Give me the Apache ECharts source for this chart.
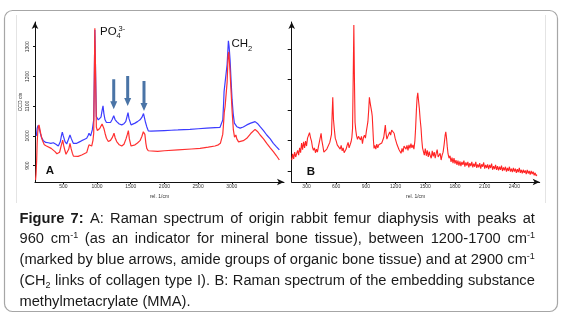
<!DOCTYPE html>
<html>
<head>
<meta charset="utf-8">
<script src="https://cdn.jsdelivr.net/npm/echarts@6/dist/echarts.min.js"></script>
<style>
html,body{margin:0;padding:0;background:#fff;}
#wrap{position:relative;width:563px;height:315px;overflow:hidden;}
#chart{position:absolute;left:0;top:0;width:563px;height:315px;}
#cap{position:absolute;left:19.5px;top:207.5px;width:515.5px;font-family:'Liberation Sans',Arial,sans-serif;font-size:14.67px;color:#1a1a1a;}
.ln{display:flex;justify-content:space-between;height:20.75px;line-height:20.75px;white-space:nowrap;}
.lnl{height:20.75px;line-height:20.75px;white-space:nowrap;}
sup{font-size:9px;vertical-align:0;position:relative;top:-5px;}
sub{font-size:9px;vertical-align:0;position:relative;top:3px;}
</style>
</head>
<body>
<div id="wrap">
<div id="chart"></div>
<div id="cap"></div>
</div>
<script>
// ---- Panel A: bone spectrum (wavenumber, CCD counts) ----
const ticksAX = [500, 1000, 1500, 2000, 2500, 3000];
const ticksAY = [900, 1000, 1100, 1200, 1300];
const boneBlue = [[100,1000],[112,1025],[125,1035],[140,1028],[154,1014],[175,995],[203,984],[240,978],[277,977],[315,975],[352,977],[390,972],[426,966],[455,980],[470,998],[485,1013],[500,1000],[525,981],[550,973],[575,988],[599,1003],[620,990],[648,975],[700,975],[740,980],[773,984],[810,988],[847,992],[870,1002],[881,1009],[893,1003],[905,1000],[930,1020],[951,1054],[960,1200],[968,1356],[976,1250],[990,1065],[1019,1054],[1040,1058],[1059,1063],[1075,1085],[1089,1101],[1102,1075],[1119,1054],[1140,1045],[1168,1040],[1200,1045],[1225,1055],[1248,1068],[1268,1055],[1292,1048],[1330,1040],[1367,1037],[1400,1041],[1426,1048],[1445,1065],[1460,1078],[1475,1058],[1505,1037],[1530,1040],[1564,1043],[1600,1048],[1638,1054],[1665,1062],[1690,1075],[1705,1070],[1720,1045],[1738,1031],[1761,1017],[1800,1016],[1900,1017],[2000,1018],[2100,1019],[2200,1020],[2380,1022],[2500,1024],[2628,1026],[2750,1028],[2825,1029],[2850,1035],[2866,1054],[2878,1110],[2885,1149],[2900,1152],[2914,1154],[2930,1240],[2949,1320],[2960,1300],[2974,1255],[2990,1180],[3004,1121],[3020,1075],[3038,1043],[3074,1031],[3123,1026],[3170,1030],[3222,1037],[3280,1043],[3345,1048],[3380,1042],[3420,1031],[3470,1018],[3518,1003],[3570,990],[3616,975],[3660,964],[3705,953]];
const boneRed = [[88,852],[95,870],[105,919],[112,975],[120,1010],[130,1030],[139,1037],[150,1025],[169,1003],[190,985],[218,970],[250,966],[277,964],[320,958],[377,947],[405,940],[426,936],[445,945],[470,968],[491,986],[505,968],[525,950],[540,938],[559,933],[580,955],[599,975],[615,958],[634,942],[650,932],[674,928],[720,931],[773,936],[810,940],[847,944],[865,958],[881,970],[900,968],[921,966],[940,985],[951,1009],[960,1200],[968,1362],[976,1250],[990,1030],[1005,1018],[1019,1020],[1040,1025],[1059,1031],[1075,1040],[1089,1045],[1102,1025],[1119,1009],[1140,992],[1168,981],[1200,985],[1230,996],[1252,1009],[1270,993],[1292,981],[1330,970],[1367,966],[1400,972],[1430,990],[1450,1005],[1465,1018],[1480,990],[1505,966],[1530,966],[1564,970],[1600,976],[1638,984],[1665,998],[1687,1014],[1698,1020],[1710,1005],[1725,975],[1738,958],[1760,950],[1787,947],[1900,948],[2000,950],[2200,953],[2400,956],[2529,958],[2650,962],[2750,966],[2800,970],[2830,975],[2851,981],[2865,1005],[2874,1031],[2888,1080],[2900,1098],[2914,1100],[2930,1180],[2945,1270],[2955,1283],[2970,1230],[2985,1166],[3005,1080],[3023,1020],[3040,996],[3049,992],[3060,1003],[3074,990],[3100,980],[3123,977],[3170,984],[3222,992],[3280,1008],[3345,1022],[3380,1015],[3420,1003],[3470,990],[3518,975],[3570,960],[3616,947],[3660,934],[3705,919]];
// blue arrows marking the amide peaks (wavenumber, arrow centre in counts)
const arrowsA = [[1248,1140],[1455,1151],[1697,1134]];

// ---- Panel B: MMA spectrum (wavenumber, arbitrary units) ----
const ticksBX = [300, 600, 900, 1200, 1500, 1800, 2100, 2400];
const ticksBY = [0, 1, 2, 3, 4];
const mmaB = [[150,0.36],[160,0.56],[170,0.40],[180,0.62],[190,0.46],[200,0.50],[210,0.68],[220,0.52],[230,0.76],[240,0.60],[250,0.92],[260,0.70],[270,0.96],[280,0.76],[290,0.98],[300,0.82],[310,1.08],[320,1.12],[330,1.26],[340,1.10],[350,0.98],[360,0.78],[370,0.68],[380,0.76],[390,0.60],[400,0.72],[410,0.62],[420,0.80],[430,0.82],[440,1.12],[447,1.24],[455,1.00],[465,0.82],[475,0.62],[485,0.66],[495,0.60],[505,0.72],[515,0.78],[525,0.70],[535,0.94],[545,1.00],[552,1.20],[558,1.80],[565,2.42],[572,1.70],[580,1.40],[590,1.08],[600,0.98],[610,0.86],[620,0.84],[630,0.90],[640,0.72],[650,0.84],[660,0.66],[670,0.76],[680,0.60],[690,0.66],[700,0.72],[710,0.84],[720,0.94],[730,0.76],[740,0.86],[750,0.96],[758,1.10],[765,1.40],[772,3.20],[778,4.80],[784,3.00],[790,1.60],[797,1.35],[805,1.16],[815,1.04],[825,1.14],[835,1.16],[845,1.02],[855,1.14],[865,0.90],[875,1.10],[885,1.18],[895,1.08],[905,1.32],[912,1.46],[920,1.62],[928,2.00],[935,2.42],[942,2.26],[950,2.10],[958,1.95],[964,1.80],[970,1.40],[976,1.00],[982,0.74],[990,0.84],[1000,0.72],[1010,0.88],[1020,0.76],[1030,0.86],[1040,0.90],[1050,0.80],[1060,0.92],[1070,0.94],[1080,1.10],[1088,1.30],[1096,1.51],[1104,1.22],[1112,1.05],[1120,1.12],[1130,1.16],[1140,1.28],[1150,1.18],[1160,1.34],[1167,1.40],[1175,1.28],[1185,1.24],[1195,1.08],[1205,1.04],[1215,0.86],[1225,0.82],[1235,0.70],[1245,0.68],[1255,0.58],[1265,0.74],[1275,0.62],[1285,0.82],[1295,0.84],[1305,0.72],[1315,0.84],[1325,0.68],[1335,0.86],[1345,0.74],[1355,0.90],[1365,0.76],[1375,0.86],[1385,0.72],[1395,1.00],[1402,1.40],[1410,2.00],[1417,2.40],[1424,2.57],[1432,2.30],[1440,2.05],[1448,1.70],[1457,1.40],[1465,1.00],[1472,0.76],[1480,0.70],[1490,0.52],[1500,0.74],[1510,0.50],[1520,0.68],[1530,0.46],[1540,0.64],[1550,0.50],[1560,0.42],[1570,0.66],[1580,0.48],[1590,0.62],[1600,0.42],[1610,0.58],[1620,0.70],[1630,0.46],[1640,0.40],[1650,0.58],[1660,0.36],[1670,0.52],[1680,0.62],[1690,0.86],[1700,1.16],[1707,1.29],[1714,1.10],[1722,0.80],[1730,0.56],[1740,0.42],[1750,0.50],[1760,0.30],[1770,0.44],[1780,0.26],[1790,0.42],[1800,0.24],[1810,0.36],[1820,0.20],[1830,0.34],[1840,0.18],[1850,0.32],[1860,0.16],[1870,0.30],[1880,0.20],[1890,0.34],[1900,0.14],[1910,0.28],[1920,0.18],[1930,0.30],[1940,0.12],[1950,0.26],[1960,0.16],[1970,0.30],[1980,0.12],[1990,0.24],[2000,0.14],[2010,0.30],[2020,0.10],[2030,0.22],[2040,0.12],[2050,0.26],[2060,0.08],[2070,0.22],[2080,0.14],[2090,0.28],[2100,0.08],[2110,0.20],[2120,0.10],[2130,0.22],[2140,0.06],[2150,0.20],[2160,0.10],[2170,0.24],[2180,0.04],[2190,0.16],[2200,0.06],[2210,0.20],[2220,0.04],[2230,0.16],[2240,0.02],[2250,0.14],[2260,0.04],[2270,0.18],[2280,0.00],[2290,0.12],[2300,0.02],[2310,0.14],[2320,-0.02],[2330,0.10],[2340,0.00],[2350,0.14],[2360,-0.02],[2370,0.08],[2380,-0.04],[2390,0.10],[2400,-0.02],[2410,0.08],[2420,-0.06],[2430,0.06],[2440,-0.04],[2450,0.10],[2460,-0.06],[2470,0.04],[2480,-0.08],[2490,0.04],[2500,-0.06],[2510,0.02],[2520,-0.10],[2530,0.04],[2540,-0.08],[2550,0.00],[2560,-0.12],[2570,0.00],[2580,-0.10],[2590,-0.02],[2600,-0.14],[2610,-0.06],[2620,-0.16],[2628,-0.12]];

// ---- Caption ----
const captionLines = [
  "<b>Figure</b> <b>7:</b> A: Raman spectrum of origin rabbit femur diaphysis with peaks at",
  "960 cm<sup>-1</sup> (as an indicator for mineral bone tissue), between 1200-1700 cm<sup>-1</sup>",
  "(marked by blue arrows, amide groups of organic bone tissue) and at 2900 cm<sup>-1</sup>",
  "(CH<sub>2</sub> links of collagen type I). B: Raman spectrum of the embedding substance",
  "methylmetacrylate (MMA)."
];
const cap = document.getElementById('cap');
captionLines.forEach(function (l, i) {
  const d = document.createElement('div');
  if (i < captionLines.length - 1) {
    d.className = 'ln';
    d.innerHTML = l.split(' ').map(function (w) { return '<span>' + w + '</span>'; }).join('');
  } else {
    d.className = 'lnl';
    d.innerHTML = l;
  }
  cap.appendChild(d);
});

const FF = "'Liberation Sans', Arial, sans-serif";
const plain = function (v) { return String(v); };
const tickFont = {fontFamily: FF, fontSize: 5, color: '#333', formatter: plain};
function axisLine() {
  return {show: true, onZero: false, symbol: ['none', 'arrow'], symbolSize: [5, 7],
          lineStyle: {color: '#111', width: 1}};
}
const arrowPath = 'path://M2,0L5,0L5,22L7,22L3.5,30L0,22L2,22Z';

const chart = echarts.init(document.getElementById('chart'), null, {renderer: 'canvas'});
chart.setOption({
  animation: false,
  grid: [
    {left: 35, top: 22, width: 249, height: 160},
    {left: 291.7, top: 22, width: 248, height: 160}
  ],
  xAxis: [
    {gridIndex: 0, type: 'value', min: 80, max: 3774,
     axisLine: axisLine(),
     axisTick: {show: true, customValues: ticksAX, length: 2, lineStyle: {color: '#111'}},
     axisLabel: Object.assign({customValues: ticksAX, margin: 2}, tickFont),
     splitLine: {show: false},
     name: 'rel. 1/cm', nameLocation: 'middle', nameGap: 8,
     nameTextStyle: {fontFamily: FF, fontSize: 5, color: '#333'}},
    {gridIndex: 1, type: 'value', min: 150, max: 2656,
     axisLine: axisLine(),
     axisTick: {show: true, customValues: ticksBX, length: 2, lineStyle: {color: '#111'}},
     axisLabel: Object.assign({customValues: ticksBX, margin: 2}, tickFont),
     splitLine: {show: false},
     name: 'rel. 1/cm', nameLocation: 'middle', nameGap: 8,
     nameTextStyle: {fontFamily: FF, fontSize: 5, color: '#333'}}
  ],
  yAxis: [
    {gridIndex: 0, type: 'value', min: 845, max: 1383,
     axisLine: axisLine(),
     axisTick: {show: true, customValues: ticksAY, length: 2, lineStyle: {color: '#111'}},
     axisLabel: Object.assign({customValues: ticksAY, margin: 5, rotate: 90}, tickFont),
     splitLine: {show: false},
     name: 'CCD cts', nameLocation: 'middle', nameGap: 12, nameRotate: 90,
     nameTextStyle: {fontFamily: FF, fontSize: 5, color: '#333'}},
    {gridIndex: 1, type: 'value', min: -0.3615, max: 4.896,
     axisLine: axisLine(),
     axisTick: {show: true, customValues: ticksBY, length: 4, lineStyle: {color: '#111'}},
     axisLabel: {show: false},
     splitLine: {show: false}}
  ],
  series: [
    {type: 'line', xAxisIndex: 0, yAxisIndex: 0, data: boneBlue, symbol: 'none',
     lineStyle: {color: '#3c3cff', width: 1.2}, z: 2},
    {type: 'line', xAxisIndex: 0, yAxisIndex: 0, data: boneRed, symbol: 'none',
     lineStyle: {color: '#ff3030', width: 1.2}, z: 3,
     markPoint: {symbol: arrowPath, symbolSize: [7, 30], silent: true,
       itemStyle: {color: '#4a74a6'}, label: {show: false},
       data: arrowsA.map(function (a) { return {coord: a}; })}},
    {type: 'line', xAxisIndex: 1, yAxisIndex: 1, data: mmaB, symbol: 'none',
     lineStyle: {color: '#ff2424', width: 1.1}, z: 2}
  ],
  graphic: [
    {type: 'rect', shape: {x: 4.5, y: 10.5, width: 553, height: 301, r: 8},
     style: {fill: 'none', stroke: '#a6a6a6', lineWidth: 1.2}, silent: true},
    {type: 'line', shape: {x1: 16.5, y1: 15, x2: 16.5, y2: 203}, style: {stroke: '#e4e4e4', lineWidth: 1}, silent: true},
    {type: 'line', shape: {x1: 545.5, y1: 15, x2: 545.5, y2: 203}, style: {stroke: '#e4e4e4', lineWidth: 1}, silent: true},
    {type: 'text', x: 50, y: 171, style: {text: 'A', fontFamily: FF, fontSize: 11.5, fontWeight: 'bold', fill: '#111', align: 'center', verticalAlign: 'middle', textAlign: 'center', textVerticalAlign: 'middle'}},
    {type: 'text', x: 311, y: 172.3, style: {text: 'B', fontFamily: FF, fontSize: 11.5, fontWeight: 'bold', fill: '#111', align: 'center', verticalAlign: 'middle', textAlign: 'center', textVerticalAlign: 'middle'}},
    {type: 'text', x: 100, y: 32.3, style: {text: 'PO', fontFamily: FF, fontSize: 11.5, fill: '#111', align: 'left', verticalAlign: 'middle', textAlign: 'left', textVerticalAlign: 'middle'}},
    {type: 'text', x: 116.5, y: 35.5, style: {text: '4', fontFamily: FF, fontSize: 7.5, fill: '#111', align: 'left', verticalAlign: 'middle', textAlign: 'left', textVerticalAlign: 'middle'}},
    {type: 'text', x: 118.5, y: 28.5, style: {text: '3-', fontFamily: FF, fontSize: 7.5, fill: '#111', align: 'left', verticalAlign: 'middle', textAlign: 'left', textVerticalAlign: 'middle'}},
    {type: 'text', x: 231.5, y: 44.2, style: {text: 'CH', fontFamily: FF, fontSize: 11.5, fill: '#111', align: 'left', verticalAlign: 'middle', textAlign: 'left', textVerticalAlign: 'middle'}},
    {type: 'text', x: 248, y: 48.5, style: {text: '2', fontFamily: FF, fontSize: 7.5, fill: '#111', align: 'left', verticalAlign: 'middle', textAlign: 'left', textVerticalAlign: 'middle'}}
  ]
});
</script>
</body>
</html>
